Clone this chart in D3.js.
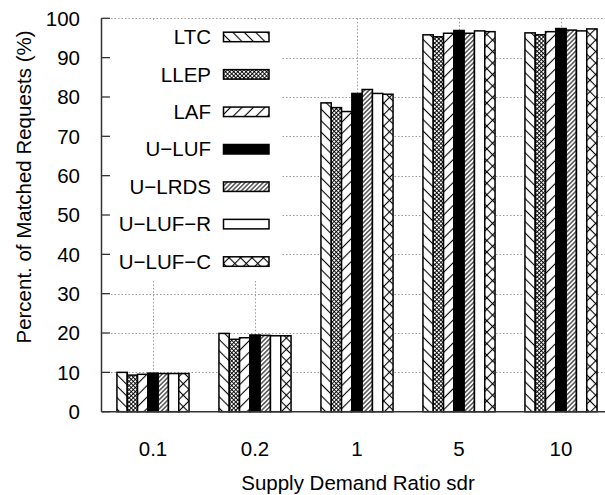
<!DOCTYPE html>
<html>
<head>
<meta charset="utf-8">
<script src="https://cdn.jsdelivr.net/npm/d3@7"></script>
<style>
  html, body { margin: 0; padding: 0; background: #fff; }
  svg { display: block; font-family: "Liberation Sans", Arial, Helvetica, sans-serif; }
</style>
</head>
<body>
<svg id="chart" width="605" height="495"></svg>
<script>
// Supply/demand ratios on the x axis
const categories = ["0.1", "0.2", "1", "5", "10"];
// Matching algorithms (legend order)
const seriesNames = ["LTC", "LLEP", "LAF", "U\u2212LUF", "U\u2212LRDS", "U\u2212LUF\u2212R", "U\u2212LUF\u2212C"];
// Percentage of matched requests, one array per algorithm
const LTC     = [10.0, 19.9, 78.5, 95.8, 96.3];
const LLEP    = [9.3, 18.4, 77.3, 95.3, 95.8];
const LAF     = [9.5, 18.8, 76.3, 96.2, 96.6];
const ULUF    = [9.8, 19.5, 80.9, 96.9, 97.4];
const ULRDS   = [9.7, 19.4, 81.9, 96.2, 97.0];
const ULUF_R  = [9.7, 19.3, 80.9, 96.8, 96.8];
const ULUF_C  = [9.7, 19.3, 80.7, 96.6, 97.3];
const seriesValues = [LTC, LLEP, LAF, ULUF, ULRDS, ULUF_R, ULUF_C];
const yTicks = [0, 10, 20, 30, 40, 50, 60, 70, 80, 90, 100];

const svg = d3.select("#chart");
const defs = svg.append("defs");

// Hatch fills
function hatch(id, spacing, angles, width) {
  const p = defs.append("pattern")
    .attr("id", id)
    .attr("patternUnits", "userSpaceOnUse")
    .attr("width", spacing).attr("height", spacing)
    .attr("patternTransform", `rotate(${angles[0]})`);
  p.append("rect").attr("width", spacing).attr("height", spacing).attr("fill", "#fff");
  p.append("line").attr("x1", spacing / 2).attr("y1", -1).attr("x2", spacing / 2).attr("y2", spacing + 1)
    .attr("stroke", "#000").attr("stroke-width", width);
  if (angles.length > 1) {
    p.append("line").attr("x1", -1).attr("y1", spacing / 2).attr("x2", spacing + 1).attr("y2", spacing / 2)
      .attr("stroke", "#000").attr("stroke-width", width);
  }
  return `url(#${id})`;
}
const fills = [
  hatch("p-ltc", 8.1, [-45], 1.1),
  hatch("p-llep", 2.9, [45, 1], 0.9),
  hatch("p-laf", 8.1, [45], 1.1),
  "#000",
  hatch("p-ulrds", 3.2, [45], 1.0),
  "#fff",
  hatch("p-ulufc", 8.1, [45, 1], 1.1)
];

const x = d3.scaleLinear().domain([-0.5, 4.5]).range([102, 612]);
const y = d3.scaleLinear().domain([0, 100]).range([411.7, 18.3]);
const barW = 0.101;            // bar width in category units
const nS = seriesNames.length;

// Grid
const grid = svg.append("g").attr("stroke", "#9a9a9a").attr("stroke-width", 1).attr("stroke-dasharray", "1.5,2");
grid.selectAll("line.h").data(yTicks.slice(1)).join("line")
  .attr("x1", x(-0.5) + 9).attr("x2", 605)
  .attr("y1", d => Math.round(y(d)) + 0.5).attr("y2", d => Math.round(y(d)) + 0.5);
grid.selectAll("line.v").data(categories).join("line")
  .attr("x1", (d, i) => Math.round(x(i)) + 0.5).attr("x2", (d, i) => Math.round(x(i)) + 0.5)
  .attr("y1", y(100)).attr("y2", y(0));

// Key background
const keyX = 103, keyY = 21, keyW = 178, keyH = 260;
svg.append("rect").attr("x", keyX).attr("y", keyY).attr("width", keyW).attr("height", keyH).attr("fill", "#fff");

// Bars
const bars = svg.append("g");
seriesValues.forEach((vals, s) => {
  bars.selectAll(null).data(vals).join("rect")
    .attr("x", (d, i) => x(i - barW * nS / 2 + s * barW))
    .attr("width", x(barW) - x(0))
    .attr("y", d => y(d))
    .attr("height", d => y(0) - y(d))
    .attr("fill", fills[s])
    .attr("stroke", "#000").attr("stroke-width", 1.5);
});

// Axes
const axisColor = "#333";
svg.append("line").attr("x1", 101.5).attr("x2", 101.5).attr("y1", y(100)).attr("y2", y(0))
  .attr("stroke", axisColor).attr("stroke-width", 1.5);
svg.append("line").attr("x1", 101.5).attr("x2", 605).attr("y1", y(0)).attr("y2", y(0))
  .attr("stroke", axisColor).attr("stroke-width", 1.5);
svg.selectAll("line.ytick").data(yTicks).join("line")
  .attr("x1", 101.5).attr("x2", 110)
  .attr("y1", d => y(d)).attr("y2", d => y(d))
  .attr("stroke", axisColor).attr("stroke-width", 1.3);

const fontSize = 20.5;
svg.append("g").selectAll("text").data(yTicks).join("text")
  .attr("x", 80).attr("y", d => y(d))
  .attr("dy", "0.36em").attr("text-anchor", "end")
  .attr("font-size", fontSize).attr("fill", "#000")
  .text(d => d);
svg.append("g").selectAll("text").data(categories).join("text")
  .attr("x", (d, i) => x(i)).attr("y", 456)
  .attr("text-anchor", "middle")
  .attr("font-size", fontSize).attr("fill", "#000")
  .text(d => d);

svg.append("text").attr("x", x(2) + 1).attr("y", 490).attr("text-anchor", "middle")
  .attr("font-size", fontSize).text("Supply Demand Ratio sdr");
svg.append("text")
  .attr("transform", "translate(31,187) rotate(-90)")
  .attr("text-anchor", "middle")
  .attr("font-size", fontSize)
  .attr("textLength", 313).attr("lengthAdjust", "spacingAndGlyphs")
  .text("Percent. of Matched Requests (%)");

// Key entries
const rowY = d3.scaleLinear().domain([0, 6]).range([36.7, 261.3]);
const key = svg.append("g");
seriesNames.forEach((name, s) => {
  key.append("text").attr("x", 211).attr("y", rowY(s)).attr("dy", "0.36em")
    .attr("text-anchor", "end").attr("font-size", fontSize).text(name);
  key.append("rect").attr("x", 223.5).attr("y", rowY(s) - 4.5).attr("width", 45.5).attr("height", 9.5)
    .attr("fill", fills[s]).attr("stroke", "#000").attr("stroke-width", 1.5);
});
</script>
</body>
</html>
